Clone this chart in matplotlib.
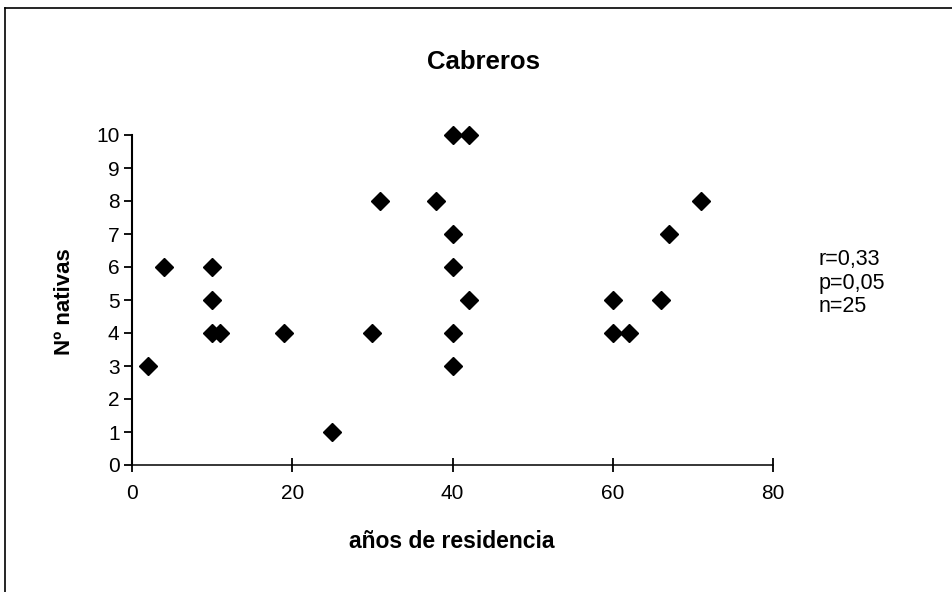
import matplotlib.pyplot as plt
from matplotlib.lines import Line2D

# data
years = [2, 4, 10, 10, 10, 11, 19, 25, 30, 31, 38, 40, 40, 40, 40, 40,
         42, 42, 60, 60, 62, 66, 67, 71]
natives = [3, 6, 6, 5, 4, 4, 4, 1, 4, 8, 8, 10, 7, 6, 4, 3,
           10, 5, 5, 4, 4, 5, 7, 8]
stats = ["r=0,33", "p=0,05", "n=25"]

plt.rcParams['font.family'] = ['Liberation Sans', 'DejaVu Sans']

W, H = 952, 592
fig = plt.figure(figsize=(W / 100, H / 100), dpi=100)
ax = fig.add_axes([132 / W, 1 - 465 / H, (773 - 132) / W, (465 - 135) / H])

ax.plot(years, natives, linestyle='none', marker='D', markersize=9,
        color='black', clip_on=False)

ax.set_xlim(0, 80)
ax.set_ylim(0, 10)
ax.set_xticks([0, 20, 40, 60, 80])
ax.set_yticks(range(0, 11))
ax.spines['top'].set_visible(False)
ax.spines['right'].set_visible(False)
ax.spines['left'].set_linewidth(1.5)
ax.spines['bottom'].set_linewidth(1.1)
ax.tick_params(axis='y', direction='out', length=6, width=1.3, labelsize=15, pad=3)
ax.tick_params(axis='x', direction='inout', length=10, width=1.3, labelsize=15, pad=9)

# title and axis titles placed like the original chart
fig.text(484 / W, 1 - 62 / H, "Cabreros", fontsize=18.5, fontweight='bold',
         ha='center', va='center')
fig.text(452 / W, 1 - 541 / H, "años de residencia", fontsize=16.5,
         fontweight='bold', ha='center', va='center')
fig.text(64 / W, 1 - 302 / H, "Nº nativas", fontsize=16, fontweight='bold',
         rotation=90, ha='center', va='center')

for i, t in enumerate(stats):
    fig.text(819 / W, 1 - (259 + 24 * i) / H, t, fontsize=15.5,
             va='center', ha='left')

# outer frame of the chart area
fig.add_artist(Line2D([5 / W, 5 / W], [0, 1 - 8 / H], color='black', lw=1.2))
fig.add_artist(Line2D([5 / W, 1], [1 - 8 / H, 1 - 8 / H], color='black', lw=1.2))

fig.savefig("out.png", dpi=100)
